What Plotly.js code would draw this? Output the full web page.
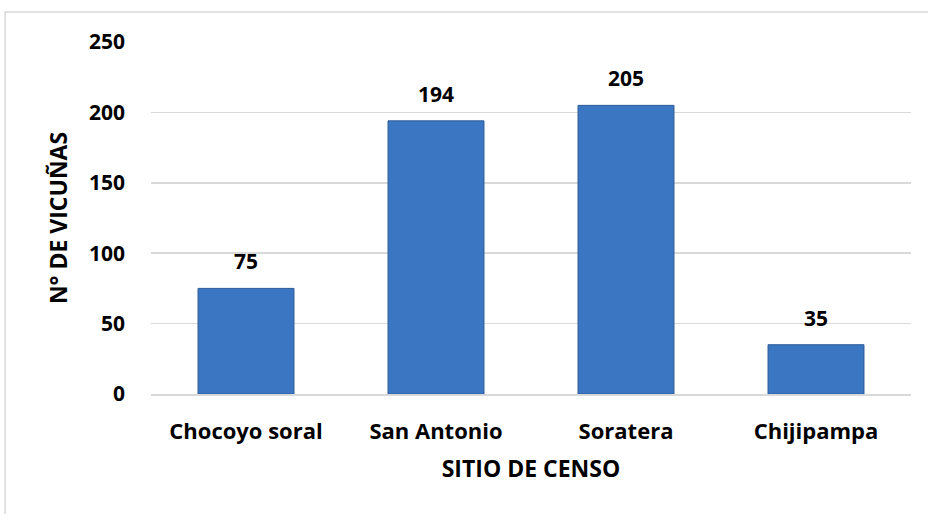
<!DOCTYPE html>
<html>
<head>
<meta charset="utf-8">
<script src="https://cdn.plot.ly/plotly-3.0.1.min.js"></script>
<style>
html,body{margin:0;padding:0;background:#fff;}
#chart{width:928px;height:514px;}
</style>
</head>
<body>
<div id="chart"></div>
<script>
const categories = ["Chocoyo soral", "San Antonio", "Soratera", "Chijipampa"];
const values = [75, 194, 205, 35];
const yTicks = [0, 50, 100, 150, 200, 250];

const fontFam = "Open Sans, Liberation Sans, sans-serif";

const trace = {
  type: "bar",
  x: categories,
  y: values,
  width: 0.505,
  marker: {
    color: "#3B76C3",
    line: {color: "#2B5B98", width: 1}
  },
  hoverinfo: "none"
};

const annotations = categories.map((c, i) => ({
  x: c, y: values[i], xref: "x", yref: "y",
  text: String(values[i]),
  showarrow: false,
  yanchor: "bottom",
  yshift: 11,
  font: {family: fontFam, size: 21, color: "#000", weight: "bold"}
}));

const layout = {
  width: 928,
  height: 514,
  margin: {l: 151, r: 17, t: 42, b: 120},
  paper_bgcolor: "#fff",
  plot_bgcolor: "#fff",
  showlegend: false,
  xaxis: {
    type: "category",
    showgrid: false,
    showline: true,
    linecolor: "#D9D9D9",
    linewidth: 1.5,
    ticks: "",
    tickfont: {family: fontFam, size: 22, color: "#000", weight: "bold"},
    ticklabelstandoff: 17,
    title: {text: "SITIO DE CENSO", font: {family: fontFam, size: 23, color: "#000", weight: "bold"}, standoff: 17}
  },
  yaxis: {
    range: [0, 250],
    tickvals: yTicks,
    ticktext: yTicks.map(String),
    showgrid: true,
    gridcolor: "#D9D9D9",
    gridwidth: 1.5,
    zeroline: false,
    showline: false,
    ticks: "",
    ticklabelstandoff: 25,
    tickfont: {family: fontFam, size: 21, color: "#000", weight: "bold"},
    title: {text: "N° DE VICUÑAS", font: {family: fontFam, size: 23, color: "#000", weight: "bold"}, standoff: 14}
  },
  annotations: annotations,
  shapes: [{
    type: "rect", xref: "paper", yref: "paper",
    x0: -0.192, x1: 1.05, y0: -0.5, y1: 1.085,
    line: {color: "#D9D9D9", width: 1.5},
    fillcolor: "rgba(0,0,0,0)",
    layer: "below"
  }]
};

Plotly.newPlot("chart", [trace], layout, {displayModeBar: false, staticPlot: true});
</script>
</body>
</html>
